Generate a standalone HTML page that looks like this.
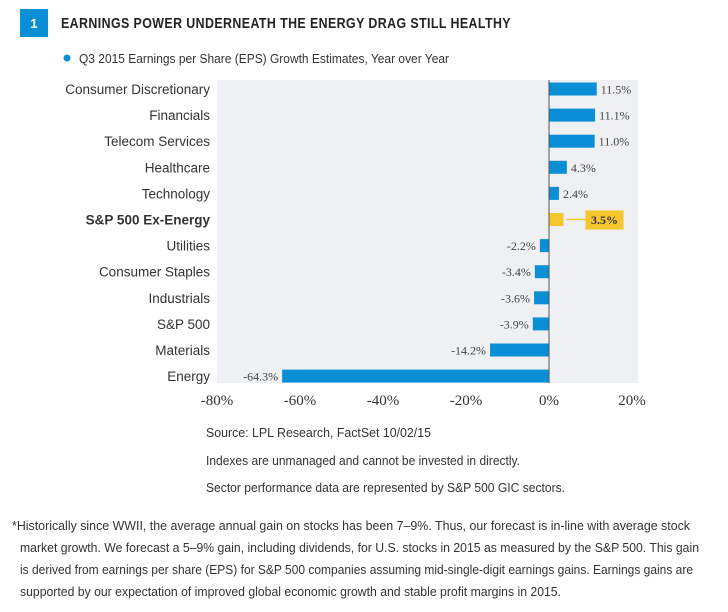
<!DOCTYPE html>
<html><head><meta charset="utf-8"><style>
body{margin:0;background:#fff;}
svg{display:block;font-family:"Liberation Sans Narrow","Liberation Sans",sans-serif;}
</style></head><body>
<svg id="chart" width="728" height="612" xmlns="http://www.w3.org/2000/svg">
<rect x="20" y="9" width="28" height="28" fill="#0a8fd6"/>
<text x="34" y="28" fill="#fff" font-size="13" font-weight="bold" text-anchor="middle">1</text>
<text x="61" y="28" font-size="15" font-weight="bold" fill="#222" textLength="450" lengthAdjust="spacingAndGlyphs" letter-spacing="0.5">EARNINGS POWER UNDERNEATH THE ENERGY DRAG STILL HEALTHY</text>
<circle cx="67" cy="58" r="3.5" fill="#0a8fd6"/>
<text x="79" y="63" font-size="13" fill="#333" textLength="370" lengthAdjust="spacingAndGlyphs">Q3 2015 Earnings per Share (EPS) Growth Estimates, Year over Year</text>
<rect x="217" y="80" width="421" height="303" fill="#eef0f3"/>
<g id="bars"></g>
<g id="ticks"></g>
<text x="206" y="437" font-size="13" fill="#333" textLength="225" lengthAdjust="spacingAndGlyphs">Source: LPL Research, FactSet   10/02/15</text>
<text x="206" y="465" font-size="13" fill="#333" textLength="314" lengthAdjust="spacingAndGlyphs">Indexes are unmanaged and cannot be invested in directly.</text>
<text x="206" y="492" font-size="13" fill="#333" textLength="359" lengthAdjust="spacingAndGlyphs">Sector performance data are represented by S&amp;P 500 GIC sectors.</text>
<g font-size="13" fill="#333">
<text x="12" y="530" textLength="678" lengthAdjust="spacingAndGlyphs">*Historically since WWII, the average annual gain on stocks has been 7–9%. Thus, our forecast is in-line with average stock</text>
<text x="20" y="552" textLength="679" lengthAdjust="spacingAndGlyphs">market growth. We forecast a 5–9% gain, including dividends, for U.S. stocks in 2015 as measured by the S&amp;P 500. This gain</text>
<text x="20" y="574" textLength="673" lengthAdjust="spacingAndGlyphs">is derived from earnings per share (EPS) for S&amp;P 500 companies assuming mid-single-digit earnings gains. Earnings gains are</text>
<text x="20" y="596" textLength="541" lengthAdjust="spacingAndGlyphs">supported by our expectation of improved global economic growth and stable profit margins in 2015.</text>
</g>
</svg>
<script>
const categories=["Consumer Discretionary","Financials","Telecom Services","Healthcare","Technology","S&P 500 Ex-Energy","Utilities","Consumer Staples","Industrials","S&P 500","Materials","Energy"];
const values=[11.5,11.1,11.0,4.3,2.4,3.5,-2.2,-3.4,-3.6,-3.9,-14.2,-64.3];
const valueLabels=["11.5%","11.1%","11.0%","4.3%","2.4%","3.5%","-2.2%","-3.4%","-3.6%","-3.9%","-14.2%","-64.3%"];
const tickValues=[-80,-60,-40,-20,0,20];
const tickLabels=["-80%","-60%","-40%","-20%","0%","20%"];
const highlight="S&P 500 Ex-Energy";
const NS="http://www.w3.org/2000/svg";
const x=v=>549+v*4.15;
const y=i=>89+i*26.1;
function mk(tag,attrs,parent,txt){const e=document.createElementNS(NS,tag);for(const k in attrs)e.setAttribute(k,attrs[k]);if(txt!=null)e.textContent=txt;parent.appendChild(e);return e;}
const bars=document.getElementById('bars');
categories.forEach((c,i)=>{
  const v=values[i],hl=c===highlight,cy=y(i);
  const lab=mk('text',{x:210,y:cy+5,'font-size':13.5,fill:'#333','text-anchor':'end','font-weight':hl?'bold':'normal'},bars,c);
  
  
  const r=mk('rect',{x:Math.min(x(0),x(v)),y:cy-6.5,width:Math.abs(x(v)-x(0)),height:13,fill:hl?'#f5c62e':'#0a8fd6'},bars);
  
  
  if(hl){
    const ln=mk('line',{x1:x(v)+3,y1:cy,x2:x(v)+22,y2:cy,stroke:'#f5c62e','stroke-width':1.5},bars);
    
    
    const b=mk('rect',{x:x(v)+22,y:cy-9,width:38,height:19,fill:'#f5c62e'},bars);
    
    
    const t=mk('text',{x:x(v)+41,y:cy+4.5,'font-size':12,fill:'#333','text-anchor':'middle','font-family':'Liberation Serif, serif','font-weight':'bold'},bars,valueLabels[i]);
    
    
  } else {
    const pos=v>=0;
    const t=mk('text',{x:pos?x(v)+4:x(v)-4,y:cy+4.5,'font-size':12,fill:'#444','text-anchor':pos?'start':'end','font-family':'Liberation Serif, serif'},bars,valueLabels[i]);
    
    
  }
});
const zl=mk('line',{x1:x(0),y1:80,x2:x(0),y2:383,stroke:'#555','stroke-width':1},bars);


const ticks=document.getElementById('ticks');
tickValues.forEach((t,i)=>{
  const e=mk('text',{x:x(t),y:405,'font-size':15,fill:'#333','text-anchor':'middle','font-family':'Liberation Serif, serif'},ticks,tickLabels[i]);
  
  
});
</script>
</body></html>
